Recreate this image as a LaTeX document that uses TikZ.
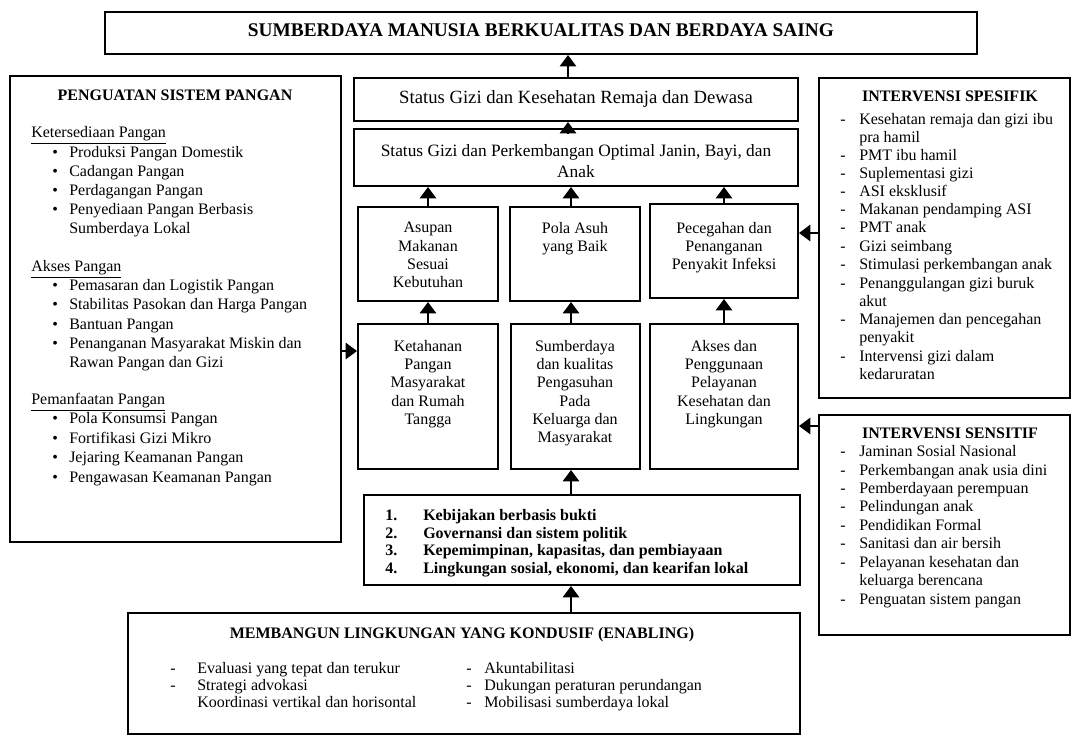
\documentclass[tikz,border=0pt]{standalone}
\usepackage{fontspec}
\setmainfont{Liberation Serif}
\usetikzlibrary{arrows.meta,fit,calc}
\newcounter{ln}
\newcommand\tl[4][]{\stepcounter{ln}\node[item,#1] (ln\theln) at (#2,#3) {#4};}
\begin{document}
\begin{tikzpicture}[x=0.75pt,y=-0.75pt,
 box/.style={draw,line width=1.45pt,inner sep=0pt},
 arr/.style={line width=2pt,-{Triangle[width=12pt,length=8.5pt]}},
 item/.style={anchor=west,inner sep=0pt,text height=8pt,text depth=2.5pt,font=\fontsize{12}{14}\selectfont},
 ctr/.style={anchor=north,inner sep=0pt,align=center,font=\fontsize{12}{13.7}\selectfont},
 hd/.style={inner sep=0pt,text height=8pt,text depth=2.5pt,font=\bfseries\fontsize{12}{14}\selectfont},
 nb/.style={font=\bfseries\fontsize{12}{14}\selectfont}]
\useasboundingbox (0,0) rectangle (1075,736);
% boxes
\node[box,fit={(105,12)(977,54)}] (top) {};
\node[box,fit={(10,76)(341,542)}] (left) {};
\node[box,fit={(354,78)(798,121)}] (remaja) {};
\node[box,fit={(354,129)(798,186)}] (janin) {};
\node[box,fit={(358,207)(498,301)}] (asupan) {};
\node[box,fit={(510,207)(640,301)}] (polaasuh) {};
\node[box,fit={(650,204)(798,298)}] (pencegahan) {};
\node[box,fit={(358,324)(498,469)}] (ketahanan) {};
\node[box,fit={(511,324)(640,469)}] (sumberdaya) {};
\node[box,fit={(650,324)(798,469)}] (akses) {};
\node[box,fit={(364,495)(800,585)}] (numbered) {};
\node[box,fit={(128,613)(800,734)}] (enabling) {};
\node[box,fit={(819,78)(1070,398)}] (spesifik) {};
\node[box,fit={(819,415)(1070,635)}] (sensitif) {};
% titles
\node[hd,font=\bfseries\fontsize{14.5}{16}\selectfont] (ttop) at (541,33) {SUMBERDAYA MANUSIA BERKUALITAS DAN BERDAYA SAING};
\node[item,anchor=center,font=\fontsize{14}{16}\selectfont] (tremaja) at (576,100) {Status Gizi dan Kesehatan Remaja dan Dewasa};
\node[ctr,font=\fontsize{13}{15.8}\selectfont] (tjanin) at (576,144) {Status Gizi dan Perkembangan Optimal Janin, Bayi, dan\\Anak};
\node[ctr] (tasupan) at (428,222) {Asupan\\Makanan\\Sesuai\\Kebutuhan};
\node[ctr] (tpola) at (575,222) {Pola Asuh\\yang Baik};
\node[ctr] (tpenc) at (724,222) {Pecegahan dan\\Penanganan\\Penyakit Infeksi};
\node[ctr] (tketa) at (428,340) {Ketahanan\\Pangan\\Masyarakat\\dan Rumah\\Tangga};
\node[ctr] (tsumb) at (575,340) {Sumberdaya\\dan kualitas\\Pengasuhan\\Pada\\Keluarga dan\\Masyarakat};
\node[ctr] (takses) at (724,340) {Akses dan\\Penggunaan\\Pelayanan\\Kesehatan dan\\Lingkungan};
% left box
\node[hd] (tleft) at (175,97) {PENGUATAN SISTEM PANGAN};
\tl{31}{134}{\underline{Ketersediaan Pangan}}
\tl{52}{154}{\textbullet}\tl{69}{154}{Produksi Pangan Domestik}
\tl{52}{173}{\textbullet}\tl{69}{173}{Cadangan Pangan}
\tl{52}{192}{\textbullet}\tl{69}{192}{Perdagangan Pangan}
\tl{52}{211}{\textbullet}\tl{69}{211}{Penyediaan Pangan Berbasis}
\tl{69}{230}{Sumberdaya Lokal}
\tl{31}{268}{\underline{Akses Pangan}}
\tl{52}{287}{\textbullet}\tl{69}{287}{Pemasaran dan Logistik Pangan}
\tl{52}{306}{\textbullet}\tl{69}{306}{Stabilitas Pasokan dan Harga Pangan}
\tl{52}{326}{\textbullet}\tl{69}{326}{Bantuan Pangan}
\tl{52}{345}{\textbullet}\tl{69}{345}{Penanganan Masyarakat Miskin dan}
\tl{69}{364}{Rawan Pangan dan Gizi}
\tl{31}{401}{\underline{Pemanfaatan Pangan}}
\tl{52}{420}{\textbullet}\tl{69}{420}{Pola Konsumsi Pangan}
\tl{52}{440}{\textbullet}\tl{69}{440}{Fortifikasi Gizi Mikro}
\tl{52}{459}{\textbullet}\tl{69}{459}{Jejaring Keamanan Pangan}
\tl{52}{479}{\textbullet}\tl{69}{479}{Pengawasan Keamanan Pangan}
% spesifik
\node[hd] (tspes) at (950,98) {INTERVENSI SPESIFIK};
\tl{840}{121}{-}\tl{859}{121}{Kesehatan remaja dan gizi ibu}
\tl{859}{139}{pra hamil}
\tl{840}{157}{-}\tl{859}{157}{PMT ibu hamil}
\tl{840}{175}{-}\tl{859}{175}{Suplementasi gizi}
\tl{840}{193}{-}\tl{859}{193}{ASI eksklusif}
\tl{840}{211}{-}\tl{859}{211}{Makanan pendamping ASI}
\tl{840}{229}{-}\tl{859}{229}{PMT anak}
\tl{840}{248}{-}\tl{859}{248}{Gizi seimbang}
\tl{840}{266}{-}\tl{859}{266}{Stimulasi perkembangan anak}
\tl{840}{285}{-}\tl{859}{285}{Penanggulangan gizi buruk}
\tl{859}{303}{akut}
\tl{840}{321}{-}\tl{859}{321}{Manajemen dan pencegahan}
\tl{859}{339}{penyakit}
\tl{840}{358}{-}\tl{859}{358}{Intervensi gizi dalam}
\tl{859}{376}{kedaruratan}
% sensitif
\node[hd] (tsens) at (950,435) {INTERVENSI SENSITIF};
\tl{840}{453}{-}\tl{859}{453}{Jaminan Sosial Nasional}
\tl{840}{472}{-}\tl{859}{472}{Perkembangan anak usia dini}
\tl{840}{490}{-}\tl{859}{490}{Pemberdayaan perempuan}
\tl{840}{508}{-}\tl{859}{508}{Pelindungan anak}
\tl{840}{527}{-}\tl{859}{527}{Pendidikan Formal}
\tl{840}{545}{-}\tl{859}{545}{Sanitasi dan air bersih}
\tl{840}{564}{-}\tl{859}{564}{Pelayanan kesehatan dan}
\tl{859}{582}{keluarga berencana}
\tl{840}{601}{-}\tl{859}{601}{Penguatan sistem pangan}
% numbered
\tl[nb]{385}{517}{1.}\tl[nb]{423}{517}{Kebijakan berbasis bukti}
\tl[nb]{385}{535}{2.}\tl[nb]{423}{535}{Governansi dan sistem politik}
\tl[nb]{385}{552}{3.}\tl[nb]{423}{552}{Kepemimpinan, kapasitas, dan pembiayaan}
\tl[nb]{385}{570}{4.}\tl[nb]{423}{570}{Lingkungan sosial, ekonomi, dan kearifan lokal}
% enabling
\node[hd] (tenab) at (462,635) {MEMBANGUN LINGKUNGAN YANG KONDUSIF (ENABLING)};
\tl{170}{670}{-}\tl{197}{670}{Evaluasi yang tepat dan terukur}
\tl{170}{687}{-}\tl{197}{687}{Strategi advokasi}
\tl{197}{704}{Koordinasi vertikal dan horisontal}
\tl{466}{670}{-}\tl{484}{670}{Akuntabilitasi}
\tl{466}{687}{-}\tl{484}{687}{Dukungan peraturan perundangan}
\tl{466}{704}{-}\tl{484}{704}{Mobilisasi sumberdaya lokal}
% arrows
\coordinate (ax) at (568,0);
\coordinate (bx) at (571,0);
\coordinate (ay) at (0,351);
\coordinate (by) at (0,233);
\coordinate (cy) at (0,426);
\draw[arr] (remaja.north -| ax) -- (top.south -| ax);
\draw[arr] ($(janin.north -| ax)+(0,6)$) -- (remaja.south -| ax);
\draw[arr] (asupan.north) -- (asupan.north |- janin.south);
\draw[arr] (polaasuh.north -| bx) -- (janin.south -| bx);
\draw[arr] (pencegahan.north) -- (pencegahan.north |- janin.south);
\draw[arr] (ketahanan.north) -- (asupan.south);
\draw[arr] (sumberdaya.north -| bx) -- (polaasuh.south -| bx);
\draw[arr] (akses.north) -- (pencegahan.south);
\draw[arr] (numbered.north -| bx) -- (sumberdaya.south -| bx);
\draw[arr] (enabling.north -| bx) -- (numbered.south -| bx);
\draw[arr] (left.east |- ay) -- (ketahanan.west |- ay);
\draw[arr] (spesifik.west |- by) -- (pencegahan.east |- by);
\draw[arr] (sensitif.west |- cy) -- (akses.east |- cy);
\end{tikzpicture}
\end{document}
